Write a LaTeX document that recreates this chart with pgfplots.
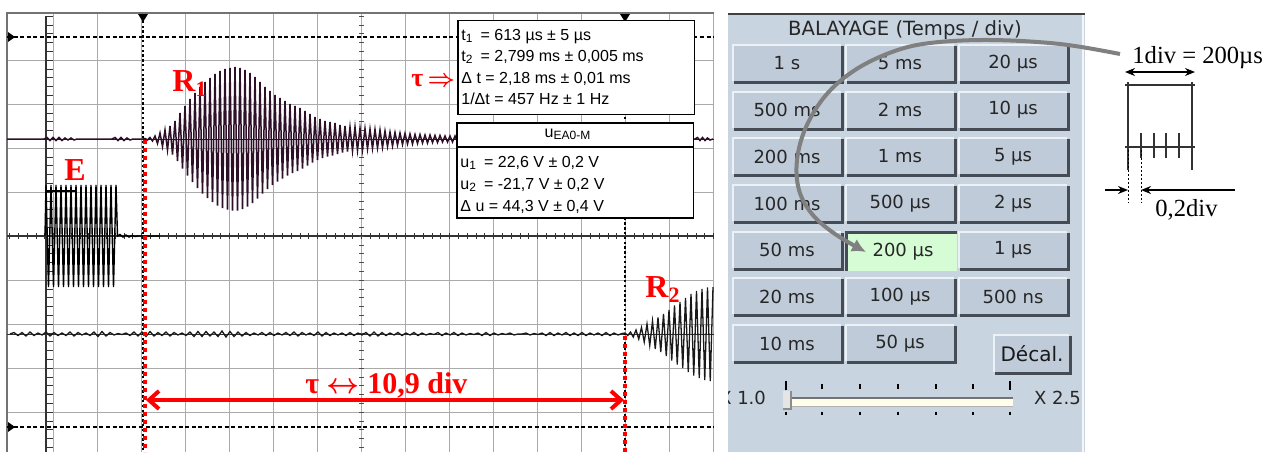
\documentclass[border=0pt]{standalone}
\usepackage{pgfplots}
\pgfplotsset{compat=1.18}
\usepackage{fontspec}
\setmainfont{Liberation Serif}
\newfontfamily\arial{Liberation Sans}
\newfontfamily\dejavu{DejaVu Sans}
\usetikzlibrary{arrows.meta}
\definecolor{panel}{RGB}{201,212,225}
\definecolor{btnface}{RGB}{191,203,217}
\definecolor{btnhi}{RGB}{236,241,246}
\definecolor{btnsh}{RGB}{70,76,86}
\definecolor{btngreen}{RGB}{214,252,214}
\definecolor{gridc}{RGB}{170,170,170}
\definecolor{wave}{RGB}{45,15,40}
\definecolor{arrowgrey}{RGB}{128,128,128}
\newcommand\btn[3]{%
  \fill[btnsh] ({#1+2},{#2+2}) rectangle ({#1+112},{#2+40});
  \fill[btnhi] (#1,#2) rectangle ({#1+109},{#2+37});
  \fill[btnface] ({#1+2},{#2+2}) rectangle ({#1+109},{#2+37});
  \node[font=\dejavu\fontsize{9pt}{10pt}\selectfont, text=black!85] at ({#1+55},{#2+19.5}) {#3};
}
\begin{document}
\begin{tikzpicture}
% ---------- screen background and grid (pixel coordinates) ----------
\begin{scope}[x=0.5pt,y=-0.5pt,shift={(0pt,226pt)}]
  \fill[white] (0,0) rectangle (1274,452);
  \foreach \gx in {53.5,97.5,141.5,185.5,229.5,273.5,317.5,361.5,405.5,449.5,493.5,537.5,581.5,625.5,669.5,713.5}
    \draw[gridc, line width=0.5pt] (\gx,13) -- (\gx,452);
  \foreach \gy in {60,104,148,192,280,324,368,412}
    \draw[gridc, line width=0.5pt] (7,\gy) -- (713.5,\gy);
  \draw[black!55, line width=1pt] (7,452) -- (7,13) -- (713.5,13);
  % central axes with minor ticks
  \draw[black!80, line width=0.8pt] (7,236) -- (713.5,236);
  \draw[black!80, line width=3pt, dash pattern=on 0.5pt off 3.9pt] (9.2,236) -- (713.5,236);
  \draw[black!80, line width=0.8pt] (46,16) -- (46,452);
  \draw[black!80, line width=3.5pt, dash pattern=on 0.5pt off 3.9pt] (49.5,15.7) -- (49.5,452);
  \draw[black!70, line width=2.5pt, dash pattern=on 0.5pt off 3.9pt] (361.5,15.7) -- (361.5,452);
  % channel reference lines
  \draw[wave, line width=0.5pt] (7,139) -- (713.5,139);
  \draw[black!80, line width=0.5pt] (7,334) -- (713.5,334);
  % cursors
  \draw[black, line width=0.9pt, dash pattern=on 2pt off 1.3pt] (7,37) -- (713.5,37);
  \draw[black, line width=0.9pt, dash pattern=on 2pt off 1.3pt] (7,427) -- (713.5,427);
  \draw[black, line width=0.8pt, dash pattern=on 1.2pt off 1.2pt] (143,16) -- (143,452);
  \draw[black, line width=0.8pt, dash pattern=on 1.2pt off 1.2pt] (625,16) -- (625,452);
  \fill[black] (8,32) -- (15,37) -- (8,42) -- cycle;
  \fill[black] (8,422) -- (15,427) -- (8,432) -- cycle;
  \fill[black] (138,14) -- (148,14) -- (143,22) -- cycle;
  \fill[black] (620,14) -- (630,14) -- (625,22) -- cycle;
  \draw[black, line width=1.2pt] (45,191) -- (76,191);
\end{scope}
% ---------- signals ----------
\begin{axis}[at={(0,0)}, anchor=south west, scale only axis, width=637pt, height=226pt,
  xmin=0, xmax=1274, ymin=0, ymax=452, y dir=reverse, hide axis, clip=false]
% R1 (channel 1)
\addplot[wave, line width=0.75pt] coordinates {
(7,139) (44,139) (47,137.5) (50,140.5) (53,137.5) (56,140.5) (59,137.5) (62,140.5) (65,138) (68,140) (71,138) (74,140) (77,139)
(112,139) (115,137.5) (118,140.5) (121,137.5) (124,140.5) (127,138) (130,140) (133,139) (143,139)
(145,138.5) (147.5,140) (150,137.5) (152.5,141) (155,136) (157.5,143.5) (160,133) (162.5,146.5) (165,130) (167.5,150)
(170,126) (172.5,154.5) (175,121) (177.5,161) (180,113) (182.5,168.5) (185,106) (187.5,175.5) (190,99) (192.5,182)
(195,93) (197.5,188) (200,87) (202.5,193.5) (205,82) (207.5,198) (210,78) (212.5,202) (215,74) (217.5,205.5)
(220,71) (222.5,208) (225,69) (227.5,209.5) (230,68) (232.5,210.5) (235,67) (237.5,210.5) (240,68) (242.5,209)
(245,70) (247.5,206.5) (250,73) (252.5,203) (255,77) (257.5,198.5) (260,82) (262.5,193.5) (265,87) (267.5,189)
(270,91) (272.5,185) (275,95) (277.5,181.5) (280,98) (282.5,178.5) (285,101) (287.5,175.5) (290,104) (292.5,173)
(295,106) (297.5,171) (300,108) (302.5,168.5) (305,111) (307.5,165.5) (310,114) (312.5,162.5) (315,117) (317.5,160)
(320,119) (322.5,158) (325,121) (327.5,156.5) (330,122) (332.5,155.5) (335,123) (337.5,154) (340,125) (342.5,152.5)
(345,126) (347.5,151.5) (350,127) (352.5,151) (355,127) (357.5,150.5) (360,128) (362.5,150) (365,128.5) (367.5,149)
(370,129) (372.5,148.5) (375,129.5) (377.5,148) (380,130) (382.5,147.5) (385,131) (387.5,146.5) (390,132) (392.5,146)
(395,132.5) (397.5,145) (400,133) (402.5,144.5) (405,133.5) (407.5,144) (410,134) (412.5,144) (415,134.5) (417.5,143.5)
(420,134.5) (422.5,143) (425,135) (427.5,143) (430,135) (432.5,142.5) (435,135.5) (437.5,142.5) (440,135.5) (442.5,142)
(445,136) (447.5,142) (450,136) (452.5,142) (455,136) (457.5,142) (460,139) (695,139)
(697.5,137.5) (700,140.5) (702.5,137.5) (705,140.5) (707.5,138) (710,140) (713,139)
};
% E (emitted burst)
\addplot[black, line width=0.7pt] coordinates {
(45,236) (46,185) (48.5,287) (51,185) (53.5,287) (56,185) (58.5,287) (61,185) (63.5,287) (66,185) (68.5,287)
(71,185) (73.5,287) (76,185) (78.5,287) (81,185) (83.5,287) (86,185) (88.5,287) (91,185) (93.5,287)
(96,185) (98.5,287) (101,185) (103.5,287) (106,185) (108.5,287) (111,185) (113.5,287) (116,185) (117.5,236)
(120,234.5) (123,237) (126,235) (129,237) (132,235.5) (135,236.5) (138,236) (160,236)
};
% R2 (channel 3)
\addplot[black!90, line width=0.65pt] coordinates {
(10,334) (14,332.5) (18,335.5) (22,332.5) (26,336) (30,332) (34,335.5) (38,333) (42,335) (46,332)
(50,336) (54,332.5) (58,335.5) (62,333) (66,335.5) (70,332) (74,336) (78,332.5) (82,335) (86,333)
(90,335.5) (94,332) (98,336.5) (102,331.5) (106,336) (110,332.5) (114,335) (118,333.5) (122,334.5) (126,333)
(130,335.5) (134,332) (138,336) (142,332) (146,336.5) (150,331.5) (154,336) (158,332.5) (162,335.5) (166,332)
(170,336) (174,332.5) (178,335) (182,333) (186,335.5) (190,332) (194,336.5) (198,331.5) (202,336.5) (206,331.5)
(210,336) (214,332) (218,336.5) (222,331) (226,337) (230,331.5) (234,336.5) (238,332) (242,336) (246,332.5)
(250,335.5) (254,333) (258,335) (262,332.5) (266,335.5) (270,332.5) (274,335.5) (278,333) (282,335) (286,332.5)
(290,335.5) (294,332) (298,336) (302,332.5) (306,335) (310,333) (314,335.5) (318,332) (322,336) (326,332.5)
(330,335.5) (334,333) (338,335) (342,333) (346,335.5) (350,332.5) (354,335.5) (358,333) (362,335) (366,332.5)
(370,336) (374,332) (378,336) (382,332.5) (386,335.5) (390,333) (394,335) (398,332.5) (402,335.5) (406,333)
(410,335) (414,332.5) (418,335.5) (422,333) (426,335) (430,333.5) (434,334.5) (438,332.5) (442,335.5) (446,333)
(450,335) (454,332.5) (458,335.5) (462,333) (466,335) (470,333.5) (474,334.5) (478,333) (482,335.5) (486,332.5)
(490,335.5) (494,333) (498,335) (502,333.5) (506,334.5) (510,333) (514,335) (518,334) (522,334) (526,333)
(530,335) (534,333.5) (538,334.5) (542,333) (546,335.5) (550,332.5) (554,335.5) (558,333) (562,335) (566,332.5)
(570,335.5) (574,333) (578,335.5) (582,332.5) (586,335.5) (590,333) (594,335) (598,333) (602,335.5) (606,332.5)
(610,335.5) (614,333) (618,335) (622,333.5)
(625,333) (627.75,335.5) (630.5,332) (633.25,337) (636,330) (638.75,339) (641.5,327.5) (644.25,342) (647,324) (649.75,345.5)
(652.5,321) (655.25,349) (658,317.5) (660.75,352) (663.5,314) (666.25,356) (669,310) (671.75,360.5) (674.5,305.5) (677.25,364.5)
(680,302) (682.75,368) (685.5,298) (688.25,372) (691,294) (693.75,375.5) (696.5,291) (699.25,378) (702,289) (704.75,380)
(707.5,287.5) (710.25,381) (713,287)
};
\end{axis}
% ---------- overlays (pixel coordinates) ----------
\begin{scope}[x=0.5pt,y=-0.5pt,shift={(0pt,226pt)}]
  % red annotations
  \draw[red, line width=2pt, dash pattern=on 2pt off 2pt] (145,140) -- (145,452);
  \draw[red, line width=2pt, dash pattern=on 2pt off 2pt] (625,336) -- (625,452);
  \draw[red, line width=2pt, {Straight Barb[length=5pt,width=9pt]}-{Straight Barb[length=5pt,width=9pt]}] (146,400) -- (624,400);
  \node[red, anchor=base west, font=\bfseries\fontsize{15pt}{15pt}\selectfont, inner sep=0pt] at (305,393)
     {τ {\boldmath$\leftrightarrow$} 10,9 div};
  \node[red, anchor=base west, font=\bfseries\fontsize{16pt}{16pt}\selectfont, inner sep=0pt] at (172,91)
     {R\raisebox{-0.35ex}{\fontsize{11pt}{11pt}\selectfont 1}};
  \node[red, anchor=base west, font=\bfseries\fontsize{16pt}{16pt}\selectfont, inner sep=0pt] at (64,180) {E};
  \node[red, anchor=base west, font=\bfseries\fontsize{16pt}{16pt}\selectfont, inner sep=0pt] at (645,297)
     {R\raisebox{-0.35ex}{\fontsize{11pt}{11pt}\selectfont 2}};
  \node[red, anchor=base west, font=\bfseries\fontsize{13pt}{13pt}\selectfont, inner sep=0pt] at (411,86) {τ\,{\boldmath$\Rightarrow$}};
  % info boxes
  \draw[black, fill=white, line width=0.6pt] (458,20.5) rectangle (694.5,114.5);
  \begin{scope}[every node/.style={anchor=base west, inner sep=0pt, font=\arial\fontsize{8pt}{9pt}\selectfont}]
    \node at (461,40) {t\textsubscript{1}\, = 613 µs ± 5 µs};
    \node at (461,61) {t\textsubscript{2}\, = 2,799 ms ± 0,005 ms};
    \node at (461,83) {Δ t = 2,18 ms ± 0,01 ms};
    \node at (461,104) {1/Δt = 457 Hz ± 1 Hz};
  \end{scope}
  \draw[black, fill=white, line width=0.6pt] (457,123) rectangle (693.5,218);
  \draw[black, line width=0.6pt] (457,147) -- (693.5,147);
  \begin{scope}[every node/.style={anchor=base west, inner sep=0pt, font=\arial\fontsize{8pt}{9pt}\selectfont}]
    \node[anchor=base] at (568,137) {u\textsubscript{EA0-M}};
    \node at (460,167) {u\textsubscript{1}\, = 22,6 V ± 0,2 V};
    \node at (460,189) {u\textsubscript{2}\, = -21,7 V ± 0,2 V};
    \node at (460,211) {Δ u = 44,3 V ± 0,4 V};
  \end{scope}
  % ---------- control panel ----------
  \begin{scope}
    \clip (728,13) rectangle (1085,452);
    \fill[panel] (728,13) rectangle (1085,452);
    \draw[black!75, line width=1pt] (728,14) -- (1085,14);
    \draw[white!80!panel, line width=0.6pt] (1083,15) -- (1083,452);
    \node[font=\dejavu\fontsize{9.8pt}{11pt}\selectfont, text=black!85] at (905,30) {BALAYAGE (Temps / div)};
    \btn{732}{44}{1 s}\btn{845}{44}{5 ms}\btn{958}{44}{20 µs}
    \btn{732}{90.5}{500 ms}\btn{845}{90.5}{2 ms}\btn{958}{90.5}{10 µs}
    \btn{732}{137}{200 ms}\btn{845}{137}{1 ms}\btn{958}{137}{5 µs}
    \btn{732}{184}{100 ms}\btn{845}{184}{500 µs}\btn{958}{184}{2 µs}
    \btn{732}{230.5}{50 ms}\btn{958}{230.5}{1 µs}
    \btn{732}{277}{20 ms}\btn{845}{277}{100 µs}\btn{958}{277}{500 ns}
    \btn{732}{324}{10 ms}\btn{845}{324}{50 µs}
    % pressed green button
    \fill[btnsh] (845,230.5) rectangle (957,271);
    \fill[btngreen] (848,233.5) rectangle (957,271);
    \node[font=\dejavu\fontsize{9pt}{10pt}\selectfont, text=black!85] at (903,252) {200 µs};
    % Decal button
    \fill[btnsh] (995,336) rectangle (1072,375);
    \fill[btnhi] (993,334) rectangle (1069,372);
    \fill[btnface] (995,336) rectangle (1069,372);
    \node[font=\dejavu\fontsize{10pt}{11pt}\selectfont, text=black!90] at (1032,354) {Décal.};
    % slider
    \node[font=\dejavu\fontsize{9pt}{10pt}\selectfont, text=black!85, anchor=east] at (773,398) {X 1.0};
    \node[font=\dejavu\fontsize{9pt}{10pt}\selectfont, text=black!85, anchor=west] at (1027,398) {X 2.5};
    \fill[white!92!yellow] (784,397) rectangle (1013,406);
    \draw[black!55, line width=1pt] (784,397.5) -- (1013,397.5);
    \draw[black!30, line width=0.5pt] (784,406) -- (1013,406);
    \foreach \tx in {822,860,898,936,973} {
      \draw[black, line width=0.7pt] (\tx,384) -- (\tx,389);
      \draw[black, line width=0.7pt] (\tx,412) -- (\tx,415);
    }
    \draw[black, line width=0.7pt] (786,381) -- (786,390);
    \draw[black, line width=0.7pt] (1010,381) -- (1010,390);
    \draw[black, line width=0.7pt] (786,412) -- (786,415);
    \draw[black, line width=0.7pt] (1010,412) -- (1010,415);
    \fill[black!45] (783,391) rectangle (792,410);
    \fill[black!10] (783,391) rectangle (790,408);
  \end{scope}
  % grey curved arrow
  \draw[arrowgrey, line width=2pt, -{Latex[length=7pt,width=7pt]}, smooth, tension=0.6] plot coordinates {
    (1120,54) (1060,44) (990,40) (930,43) (892,52) (855,70) (826,95) (806,127) (797,160) (799,190) (812,214) (835,234) (866,252)};
  % ---------- right diagram ----------
  \node[anchor=base west, inner sep=0pt, font=\fontsize{12.3pt}{12pt}\selectfont] at (1132,63) {1div = 200µs};
  \draw[black, line width=0.8pt, {Stealth[length=5pt,width=4pt]}-{Stealth[length=5pt,width=4pt]}] (1125,72) -- (1195,72);
  \draw[black!80, line width=1pt] (1125,85) -- (1195,85);
  \draw[black!80, line width=1pt] (1128,82) -- (1128,170);
  \draw[black!80, line width=1pt] (1192,82) -- (1192,170);
  \draw[black!80, line width=1pt] (1125,147) -- (1195,147);
  \foreach \tx in {1140.8,1153.6,1166.4,1179.2} \draw[black!80, line width=1pt] (\tx,133) -- (\tx,158);
  \draw[black, line width=0.5pt, dash pattern=on 1pt off 1pt] (1128,150) -- (1128,203);
  \draw[black, line width=0.5pt, dash pattern=on 1pt off 1pt] (1141,150) -- (1141,203);
  \draw[black, line width=1pt, -{Stealth[length=5pt,width=4pt]}] (1105,190) -- (1128,190);
  \draw[black, line width=1pt, -{Stealth[length=5pt,width=4pt]}] (1235,190) -- (1141,190);
  \node[anchor=base west, inner sep=0pt, font=\fontsize{12.3pt}{12pt}\selectfont] at (1155,216) {0,2div};
\end{scope}
\pgfresetboundingbox
\path (0,0) rectangle (637pt,226pt);
\end{tikzpicture}
\end{document}
